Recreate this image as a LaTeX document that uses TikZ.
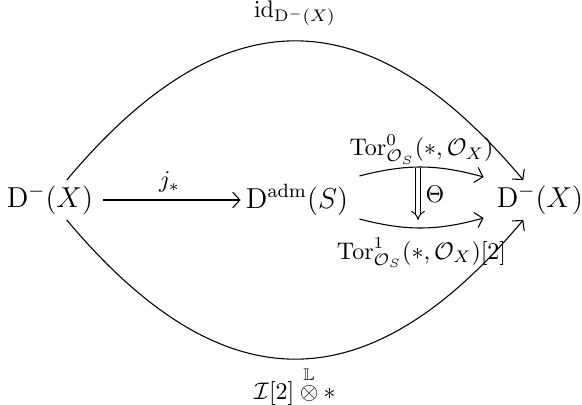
\documentclass[tikz,border=0pt]{standalone}
\usepackage{amsmath,amssymb}
\usetikzlibrary{arrows.meta}
\begin{document}
\begin{tikzpicture}[x=0.41667pt,y=0.41667pt,
  obj/.style={inner sep=2pt, font=\large},
  lbl/.style={inner sep=1pt, font=\normalsize},
  arr/.style={line width=0.45pt, -{Straight Barb[length=3pt,width=6.5pt]}},
  dbl/.style={double, double distance=1.6pt, line width=0.4pt, -{Implies[length=3pt]}, shorten >=0pt}]
\useasboundingbox (0,0) rectangle (582,404);
\node[obj] (L) at (50,204) {$\mathrm{D}^-(X)$};
\node[obj] (M) at (297,204) {$\mathrm{D}^{\mathrm{adm}}(S)$};
\node[obj] (R) at (540,204) {$\mathrm{D}^-(X)$};
\draw[arr, shorten <=2pt] (L) -- node[lbl, above=2pt] {$j_*$} (M);
\draw[arr] (L) to[out=50,in=130,looseness=1.36] node[lbl, above=5pt] {$\mathrm{id}_{\mathrm{D}^-(X)}$} (R);
\draw[arr] (L) to[out=-50,in=-130,looseness=1.36] node[lbl, below=2pt] {$\mathcal{I}[2]\overset{\mathbb{L}}{\otimes}*$} (R);
\draw[arr] ([shift={(6,24)}]M.east) to[bend left=15] node[lbl, above=0pt] {$\mathrm{Tor}^0_{\mathcal{O}_S}(*,\mathcal{O}_X)$} ([shift={(-8,23)}]R.west);
\draw[arr] ([shift={(6,-19)}]M.east) to[bend right=15] node[lbl, below=3pt] {$\mathrm{Tor}^1_{\mathcal{O}_S}(*,\mathcal{O}_X)[2]$} ([shift={(-8,-18)}]R.west);
\coordinate (t1) at (418,236);
\coordinate (t2) at (418,184);
\draw[dbl] (t1) -- node[lbl, right=2pt] {$\Theta$} (t2);
\end{tikzpicture}
\end{document}
